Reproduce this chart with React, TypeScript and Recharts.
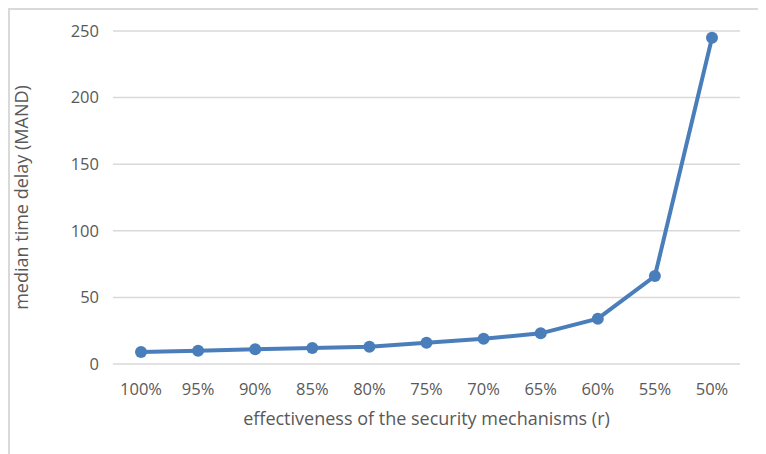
import { CartesianGrid, Line, LineChart, XAxis, YAxis } from "recharts";

const categories = ["100%", "95%", "90%", "85%", "80%", "75%", "70%", "65%", "60%", "55%", "50%"];
const delays = [9, 10, 11, 12, 13, 16, 19, 23, 34, 66, 245];
const yTicks = [0, 50, 100, 150, 200, 250];

const data = categories.map((c, i) => ({ r: c, mand: delays[i] }));

const textColor = "#595959";
const font = "'Open Sans', sans-serif";

export default function App() {
    return (
        <div
            style={{
                width: 750,
                height: 450,
                border: "2px solid #d9d9d9",
                background: "#fff",
                fontFamily: font,
            }}
        >
            <LineChart
                width={750}
                height={450}
                data={data}
                margin={{ top: 21, right: 20, left: 0, bottom: 26 }}
            >
                <CartesianGrid vertical={false} stroke="#d9d9d9" strokeWidth={1.5} />
                <XAxis
                    dataKey="r"
                    height={70}
                    padding={{ left: 28, right: 28 }}
                    axisLine={false}
                    tickLine={false}
                    tickMargin={13}
                    tick={{ fill: textColor, fontSize: 16.5, fontFamily: font }}
                    label={{
                        value: "effectiveness of the security mechanisms (r)",
                        position: "insideBottom",
                        offset: 9,
                        fill: textColor,
                        fontSize: 18,
                        fontFamily: font,
                    }}
                />
                <YAxis
                    width={103}
                    domain={[0, 250]}
                    ticks={yTicks}
                    axisLine={false}
                    tickLine={false}
                    tickMargin={8}
                    tick={{ fill: textColor, fontSize: 16.5, fontFamily: font }}
                    label={{
                        value: "median time delay (MAND)",
                        angle: -90,
                        position: "insideLeft",
                        offset: 12,
                        fill: textColor,
                        fontSize: 18,
                        fontFamily: font,
                        style: { textAnchor: "middle" },
                    }}
                />
                <Line
                    type="linear"
                    dataKey="mand"
                    stroke="#4a7ebb"
                    strokeWidth={4}
                    dot={{ r: 6, fill: "#4a7ebb", stroke: "#4a7ebb", strokeWidth: 0 }}
                    activeDot={false}
                    isAnimationActive={false}
                />
            </LineChart>
        </div>
    );
}
